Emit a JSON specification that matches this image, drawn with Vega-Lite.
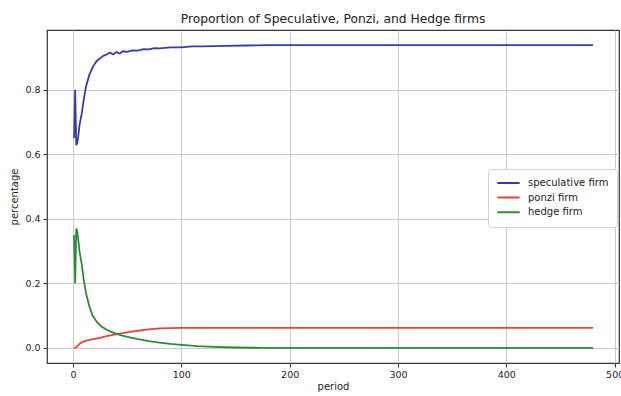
{
  "$schema": "https://vega.github.io/schema/vega-lite/v6.json",
  "width": 572,
  "height": 333,
  "autosize": "none",
  "padding": {"left": 47, "top": 30, "right": 2, "bottom": 33},
  "background": "white",
  "config": {
    "font": "DejaVu Sans",
    "view": {"stroke": "#333333", "strokeWidth": 1.2},
    "axis": {
      "domain": false,
      "grid": true,
      "gridColor": "#c4c4c4",
      "gridWidth": 0.9,
      "tickColor": "#333333",
      "tickSize": 4,
      "labelFontSize": 9.5,
      "labelColor": "#222222",
      "titleFontSize": 10,
      "titleFontWeight": "normal",
      "titleColor": "#222222"
    }
  },
  "title": {
    "text": "Proportion of Speculative, Ponzi, and Hedge firms",
    "fontSize": 12.3,
    "fontWeight": "normal",
    "color": "#222222",
    "offset": 5
  },
  "data": {
    "values": [
      {"period": 1, "firm": "speculative firm", "value": 0.65},
      {"period": 2, "firm": "speculative firm", "value": 0.80},
      {"period": 3, "firm": "speculative firm", "value": 0.628},
      {"period": 4, "firm": "speculative firm", "value": 0.635},
      {"period": 5, "firm": "speculative firm", "value": 0.66},
      {"period": 6, "firm": "speculative firm", "value": 0.69},
      {"period": 8, "firm": "speculative firm", "value": 0.725},
      {"period": 10, "firm": "speculative firm", "value": 0.77},
      {"period": 12, "firm": "speculative firm", "value": 0.81},
      {"period": 15, "firm": "speculative firm", "value": 0.845},
      {"period": 18, "firm": "speculative firm", "value": 0.868},
      {"period": 20, "firm": "speculative firm", "value": 0.88},
      {"period": 22, "firm": "speculative firm", "value": 0.889},
      {"period": 25, "firm": "speculative firm", "value": 0.897},
      {"period": 28, "firm": "speculative firm", "value": 0.905},
      {"period": 31, "firm": "speculative firm", "value": 0.909},
      {"period": 34, "firm": "speculative firm", "value": 0.915},
      {"period": 37, "firm": "speculative firm", "value": 0.909},
      {"period": 40, "firm": "speculative firm", "value": 0.917},
      {"period": 43, "firm": "speculative firm", "value": 0.912},
      {"period": 46, "firm": "speculative firm", "value": 0.919},
      {"period": 50, "firm": "speculative firm", "value": 0.917},
      {"period": 55, "firm": "speculative firm", "value": 0.922},
      {"period": 60, "firm": "speculative firm", "value": 0.921},
      {"period": 65, "firm": "speculative firm", "value": 0.926},
      {"period": 70, "firm": "speculative firm", "value": 0.925},
      {"period": 75, "firm": "speculative firm", "value": 0.929},
      {"period": 80, "firm": "speculative firm", "value": 0.928},
      {"period": 90, "firm": "speculative firm", "value": 0.931},
      {"period": 100, "firm": "speculative firm", "value": 0.931},
      {"period": 110, "firm": "speculative firm", "value": 0.934},
      {"period": 120, "firm": "speculative firm", "value": 0.934},
      {"period": 140, "firm": "speculative firm", "value": 0.936},
      {"period": 160, "firm": "speculative firm", "value": 0.937},
      {"period": 180, "firm": "speculative firm", "value": 0.938},
      {"period": 200, "firm": "speculative firm", "value": 0.938},
      {"period": 300, "firm": "speculative firm", "value": 0.938},
      {"period": 400, "firm": "speculative firm", "value": 0.938},
      {"period": 480, "firm": "speculative firm", "value": 0.938},

      {"period": 1, "firm": "ponzi firm", "value": 0.0},
      {"period": 2, "firm": "ponzi firm", "value": 0.0},
      {"period": 3, "firm": "ponzi firm", "value": 0.002},
      {"period": 4, "firm": "ponzi firm", "value": 0.005},
      {"period": 6, "firm": "ponzi firm", "value": 0.012},
      {"period": 8, "firm": "ponzi firm", "value": 0.017},
      {"period": 10, "firm": "ponzi firm", "value": 0.020},
      {"period": 15, "firm": "ponzi firm", "value": 0.025},
      {"period": 20, "firm": "ponzi firm", "value": 0.028},
      {"period": 25, "firm": "ponzi firm", "value": 0.031},
      {"period": 31, "firm": "ponzi firm", "value": 0.036},
      {"period": 37, "firm": "ponzi firm", "value": 0.040},
      {"period": 43, "firm": "ponzi firm", "value": 0.044},
      {"period": 50, "firm": "ponzi firm", "value": 0.048},
      {"period": 60, "firm": "ponzi firm", "value": 0.053},
      {"period": 70, "firm": "ponzi firm", "value": 0.057},
      {"period": 80, "firm": "ponzi firm", "value": 0.060},
      {"period": 90, "firm": "ponzi firm", "value": 0.061},
      {"period": 100, "firm": "ponzi firm", "value": 0.062},
      {"period": 150, "firm": "ponzi firm", "value": 0.062},
      {"period": 200, "firm": "ponzi firm", "value": 0.062},
      {"period": 300, "firm": "ponzi firm", "value": 0.062},
      {"period": 400, "firm": "ponzi firm", "value": 0.062},
      {"period": 480, "firm": "ponzi firm", "value": 0.062},

      {"period": 1, "firm": "hedge firm", "value": 0.35},
      {"period": 2, "firm": "hedge firm", "value": 0.20},
      {"period": 3, "firm": "hedge firm", "value": 0.37},
      {"period": 4, "firm": "hedge firm", "value": 0.36},
      {"period": 5, "firm": "hedge firm", "value": 0.33},
      {"period": 6, "firm": "hedge firm", "value": 0.30},
      {"period": 8, "firm": "hedge firm", "value": 0.26},
      {"period": 10, "firm": "hedge firm", "value": 0.21},
      {"period": 12, "firm": "hedge firm", "value": 0.17},
      {"period": 15, "firm": "hedge firm", "value": 0.13},
      {"period": 18, "firm": "hedge firm", "value": 0.10},
      {"period": 22, "firm": "hedge firm", "value": 0.08},
      {"period": 26, "firm": "hedge firm", "value": 0.067},
      {"period": 31, "firm": "hedge firm", "value": 0.056},
      {"period": 37, "firm": "hedge firm", "value": 0.047},
      {"period": 43, "firm": "hedge firm", "value": 0.040},
      {"period": 50, "firm": "hedge firm", "value": 0.034},
      {"period": 60, "firm": "hedge firm", "value": 0.027},
      {"period": 70, "firm": "hedge firm", "value": 0.021},
      {"period": 80, "firm": "hedge firm", "value": 0.016},
      {"period": 90, "firm": "hedge firm", "value": 0.012},
      {"period": 100, "firm": "hedge firm", "value": 0.009},
      {"period": 115, "firm": "hedge firm", "value": 0.005},
      {"period": 130, "firm": "hedge firm", "value": 0.003},
      {"period": 150, "firm": "hedge firm", "value": 0.001},
      {"period": 175, "firm": "hedge firm", "value": 0.0},
      {"period": 200, "firm": "hedge firm", "value": 0.0},
      {"period": 300, "firm": "hedge firm", "value": 0.0},
      {"period": 400, "firm": "hedge firm", "value": 0.0},
      {"period": 480, "firm": "hedge firm", "value": 0.0}
    ]
  },
  "mark": {"type": "line", "strokeWidth": 1.8, "clip": true},
  "encoding": {
    "x": {
      "field": "period",
      "type": "quantitative",
      "title": "period",
      "scale": {"domain": [-24, 504], "nice": false, "zero": false},
      "axis": {"values": [0, 100, 200, 300, 400, 500], "labelPadding": 2, "titlePadding": 3}
    },
    "y": {
      "field": "value",
      "type": "quantitative",
      "title": "percentage",
      "scale": {"domain": [-0.047, 0.985], "nice": false, "zero": false},
      "axis": {"values": [0, 0.2, 0.4, 0.6, 0.8], "format": ".1f", "labelPadding": 3, "titlePadding": 5}
    },
    "color": {
      "field": "firm",
      "type": "nominal",
      "sort": ["speculative firm", "ponzi firm", "hedge firm"],
      "scale": {
        "domain": ["speculative firm", "ponzi firm", "hedge firm"],
        "range": ["#3a3ab0", "#e8433a", "#2c8c34"]
      },
      "legend": {
        "title": null,
        "orient": "none",
        "legendX": 441,
        "legendY": 139,
        "symbolType": "stroke",
        "symbolSize": 500,
        "symbolStrokeWidth": 2,
        "labelFontSize": 10,
        "labelColor": "#222222",
        "labelOffset": 7,
        "clipHeight": 12,
        "rowPadding": 2.6,
        "padding": 8,
        "strokeColor": "#d0d0d0",
        "fillColor": "white",
        "cornerRadius": 3
      }
    }
  }
}
